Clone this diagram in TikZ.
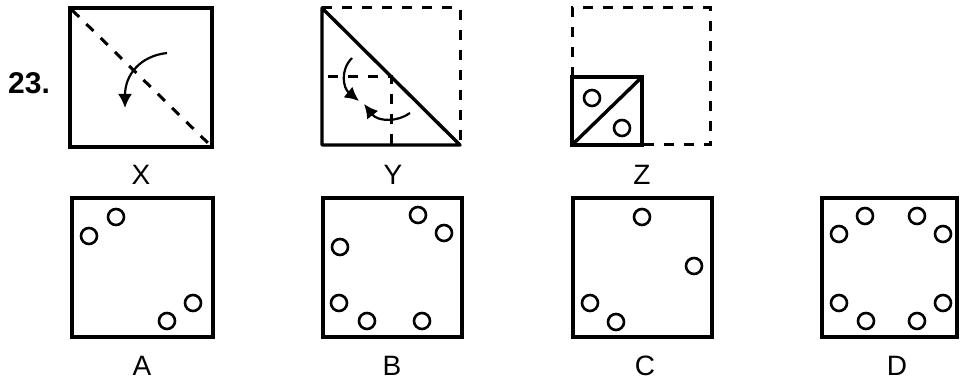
\documentclass[tikz,border=0pt]{standalone}
\usepackage{fontspec}
\setsansfont{Liberation Sans}
\usetikzlibrary{arrows.meta}
\begin{document}
\begin{tikzpicture}[x = 0.5pt, y = -0.5pt,
	frame/.style = {line width = 1.7pt},
	fold/.style = {line width = 1.5pt, dash pattern = on 5pt off 5pt},
	hole/.style = {line width = 1.3pt},
	turn/.style = {line width = 1.1pt, -{Latex[length = 7pt, width = 7pt]}},
	lbl/.style = {font = \sffamily\fontsize{14}{16}\selectfont}]
	\useasboundingbox (0,0) rectangle (960,383);
	\node [font = \sffamily\bfseries\fontsize{15}{17}\selectfont] (num) at (29,83) {23.};
	% X : fold along the diagonal
	\draw [frame] (70,8) rectangle (212,147);
	\draw [fold] (72,10) -- (210,145);
	\draw [turn] (167,53) .. controls (140,56) and (125,75) .. (125,108);
	\node [lbl] (lblX) at (141,175) {X};
	% Y : folded triangle, fold again
	\draw [fold] (322,8) -- (460,8) -- (460,145);
	\draw [frame, line join = round] (322,8) -- (322,145) -- (460,145) -- cycle;
	\draw [fold] (328,77) -- (391,77) -- (391,145);
	\draw [turn] (352,58) .. controls (340,70) and (343,88) .. (359,101);
	\draw [turn] (410,113) .. controls (398,122) and (378,122) .. (364,104);
	\node [lbl] (lblY) at (393,175) {Y};
	% Z : punched
	\draw [fold] (572,77) -- (572,8) -- (710,8) -- (710,145) -- (642,145);
	\draw [frame] (572,77) rectangle (642,145);
	\draw [frame] (572,145) -- (642,77);
	\draw [hole] (592,98) circle (8);
	\draw [hole] (622,128) circle (8);
	\node [lbl] (lblZ) at (642,175) {Z};
	% answer figures
	\draw [frame] (72,198) rectangle (213,337);
	\foreach \p in {(89,236), (116,217), (167,321), (193,303)}
		\draw [hole] \p circle (8);
	\node [lbl] (lblA) at (142,366) {A};
	\draw [frame] (323,198) rectangle (462,337);
	\foreach \p in {(418,215), (444,233), (340,247), (339,303), (367,321), (422,321)}
		\draw [hole] \p circle (8);
	\node [lbl] (lblB) at (392,366) {B};
	\draw [frame] (573,198) rectangle (712,337);
	\foreach \p in {(642,217), (694,266), (590,303), (616,322)}
		\draw [hole] \p circle (8);
	\node [lbl] (lblC) at (645,366) {C};
	\draw [frame] (822,198) rectangle (957,337);
	\foreach \p in {(865,216), (917,216), (839,234), (943,234), (839,303), (943,303), (866,321), (917,321)}
		\draw [hole] \p circle (8);
	\node [lbl] (lblD) at (897,366) {D};
\end{tikzpicture}
\end{document}
